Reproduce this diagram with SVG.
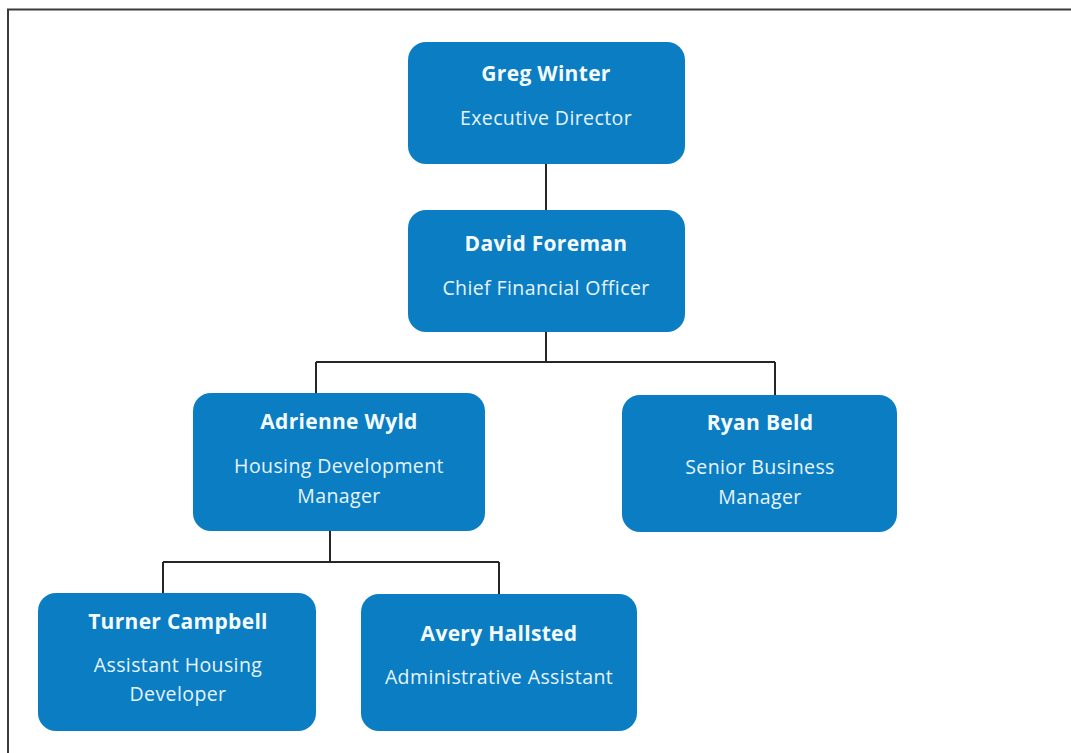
<svg xmlns="http://www.w3.org/2000/svg" width="1071" height="753" viewBox="0 0 1071 753">
  <style>
    .box { fill: #0B7DC3; }
    .name { font-family: "Open Sans", "Liberation Sans", sans-serif; font-weight: bold; font-size: 21px; letter-spacing: 0.3px; fill: #F4FBFF; text-anchor: middle; }
    .role { font-family: "Open Sans", "Liberation Sans", sans-serif; font-size: 19.5px; letter-spacing: 0.4px; fill: #E6F4FC; text-anchor: middle; }
    .wire { stroke: #262626; stroke-width: 2; fill: none; }
    .frame { stroke: #3a3a3a; stroke-width: 2; fill: none; }
  </style>
  <rect x="0" y="0" width="1071" height="753" fill="#ffffff"/>
  <!-- page frame -->
  <path class="frame" d="M8,753 L8,9.5 L1071,9.5"/>

  <!-- reporting lines -->
  <g id="connectors">
    <path class="wire" d="M546,164 L546,210"/>
    <path class="wire" d="M546,332 L546,362 M316,362 L775,362 M316,362 L316,393 M775,362 L775,395"/>
    <path class="wire" d="M330,530 L330,562 M163,562 L499,562 M163,562 L163,593 M499,562 L499,594"/>
  </g>

  <g id="greg-winter">
    <rect class="box" x="408" y="42" width="277" height="122" rx="18"/>
    <text class="name" x="546" y="81">Greg Winter</text>
    <text class="role" x="546" y="125">Executive Director</text>
  </g>

  <g id="david-foreman">
    <rect class="box" x="408" y="210" width="277" height="122" rx="18"/>
    <text class="name" x="546" y="251">David Foreman</text>
    <text class="role" x="546" y="295">Chief Financial Officer</text>
  </g>

  <g id="adrienne-wyld">
    <rect class="box" x="193" y="393" width="292" height="138" rx="18"/>
    <text class="name" x="339" y="429">Adrienne Wyld</text>
    <text class="role" x="339" y="473">Housing Development</text>
    <text class="role" x="339" y="503">Manager</text>
  </g>

  <g id="ryan-beld">
    <rect class="box" x="622" y="395" width="275" height="137" rx="18"/>
    <text class="name" x="760" y="430">Ryan Beld</text>
    <text class="role" x="760" y="474">Senior Business</text>
    <text class="role" x="760" y="504">Manager</text>
  </g>

  <g id="turner-campbell">
    <rect class="box" x="38" y="593" width="278" height="138" rx="18"/>
    <text class="name" x="178" y="629">Turner Campbell</text>
    <text class="role" x="178" y="672">Assistant Housing</text>
    <text class="role" x="178" y="701">Developer</text>
  </g>

  <g id="avery-hallsted">
    <rect class="box" x="361" y="594" width="276" height="137" rx="18"/>
    <text class="name" x="499" y="641">Avery Hallsted</text>
    <text class="role" x="499" y="684">Administrative Assistant</text>
  </g>
</svg>
